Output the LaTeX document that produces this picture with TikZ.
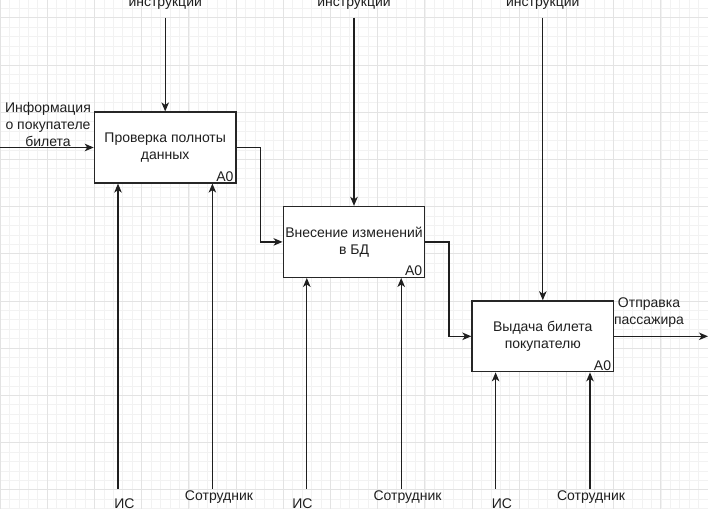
\documentclass[tikz,border=0pt]{standalone}
\usepackage{fontspec}
\setmainfont{Liberation Sans}
\usetikzlibrary{arrows.meta}
\begin{document}
\begin{tikzpicture}[x=1pt,y=-1pt,
  every node/.style={font=\fontsize{14}{17}\selectfont, text=black!88, inner sep=0pt},
  box/.style={draw=black!85, line width=1.3pt, fill=white, minimum width=141.6pt, minimum height=70.8pt, align=center},
  lbl/.style={align=center},
  arr/.style={draw=black!88, line width=1.3pt, -{Stealth[length=9pt,width=7.5pt,inset=2.5pt]}},
  minorgrid/.style={draw=black!5, line width=0.6pt},
  majorgrid/.style={draw=black!11, line width=0.7pt},
]
\useasboundingbox (0,0) rectangle (708,509);
\fill[white] (0,0) rectangle (708,509);
% grid
\foreach \i in {0,...,75} {\draw[minorgrid] (\i*9.44,0) -- (\i*9.44,509);}
\foreach \j in {1,...,54} {\draw[minorgrid] (0,-1.18+\j*9.44) -- (708,-1.18+\j*9.44);}
\foreach \i in {0,...,15} {\draw[majorgrid] (\i*47.2,0) -- (\i*47.2,509);}
\foreach \j in {0,...,10} {\draw[majorgrid] (0,17.7+\j*47.2) -- (708,17.7+\j*47.2);}

% boxes
\node[box] (b1) at (165.2,147.5) {Проверка полноты\\данных};
\node[box] (b2) at (354,241.9) {Внесение изменений\\в БД};
\node[box] (b3) at (542.8,336.3) {Выдача билета\\покупателю};
\node[anchor=base east] (a1) at ([xshift=-3pt,yshift=2pt]b1.south east) {A0};
\node[anchor=base east] (a2) at ([xshift=-3pt,yshift=2pt]b2.south east) {A0};
\node[anchor=base east] (a3) at ([xshift=-3pt,yshift=2pt]b3.south east) {A0};

% controls
\node[anchor=base] (i1) at (165.2,6.5) {инструкции};
\node[anchor=base] (i2) at (354,6.5) {инструкции};
\node[anchor=base] (i3) at (542.8,6.5) {инструкции};
\coordinate (t1) at (165.2,17.7);
\coordinate (t2) at (354,17.7);
\coordinate (t3) at (542.8,17.7);
\draw[arr] (t1) -- (b1.north);
\draw[arr] (t2) -- (b2.north);
\draw[arr] (t3) -- (b3.north);

% input
\coordinate (in) at (0,147.5);
\node[lbl] (inl) at (48,124.3) {Информация\\о покупателе\\билета};
\draw[arr] (in) -- (b1.west);

% flows
\draw[arr] (b1.east) -- ++(23.6,0) |- (b2.west);
\draw[arr] (b2.east) -- ++(23.6,0) |- (b3.west);

% output
\coordinate (out) at (708,336.3);
\node[lbl] (outl) at (649,312.5) {Отправка\\пассажира};
\draw[arr] (b3.east) -- (out);

% mechanisms
\coordinate (m1) at (118,488.5);
\coordinate (m2) at (212.4,488.5);
\coordinate (m3) at (306.8,488.5);
\coordinate (m4) at (401.2,488.5);
\coordinate (m5) at (495.6,488.5);
\coordinate (m6) at (590,488.5);
\draw[arr] (m1) -- (m1 |- b1.south);
\draw[arr] (m2) -- (m2 |- b1.south);
\draw[arr] (m3) -- (m3 |- b2.south);
\draw[arr] (m4) -- (m4 |- b2.south);
\draw[arr] (m5) -- (m5 |- b3.south);
\draw[arr] (m6) -- (m6 |- b3.south);
\node[anchor=base] (is1) at (124.5,508.3) {ИС};
\node[anchor=base] (is2) at (302.5,508.3) {ИС};
\node[anchor=base] (is3) at (502,508.3) {ИС};
\node[anchor=base] (s1) at (219,500.7) {Сотрудник};
\node[anchor=base] (s2) at (407.5,500.7) {Сотрудник};
\node[anchor=base] (s3) at (591,500.7) {Сотрудник};
\end{tikzpicture}
\end{document}
